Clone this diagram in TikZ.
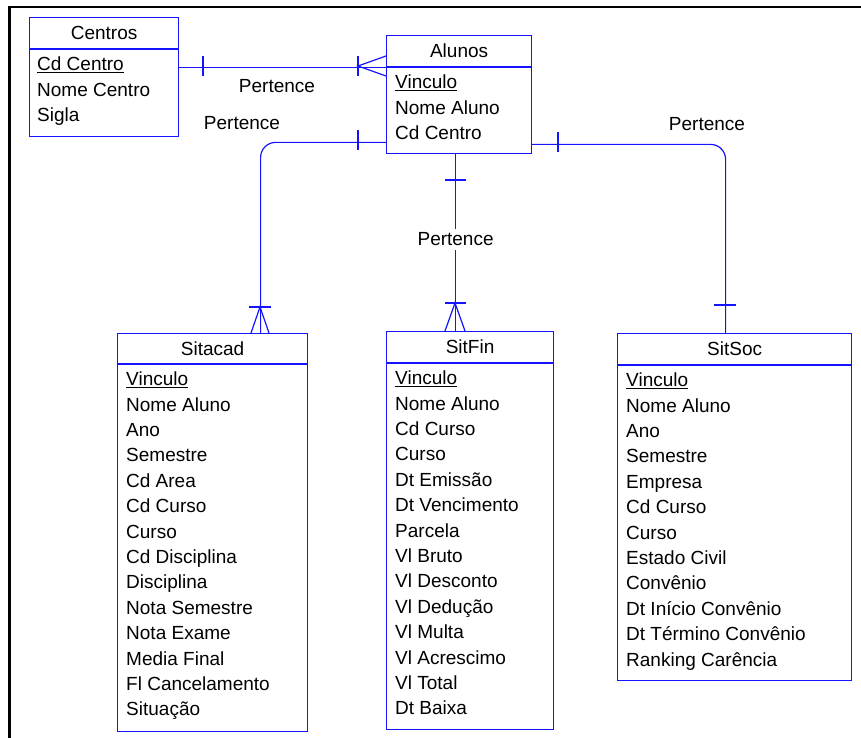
\documentclass[tikz,border=0pt]{standalone}
\usepackage{fontspec}
\setmainfont{Liberation Sans}
\usepackage{tikz}
\usetikzlibrary{calc}

\definecolor{erblue}{RGB}{20,20,255}

\tikzset{
  ent/.style={draw=erblue, line width=1.2pt, anchor=north west, inner sep=0pt},
  enthead/.style={ent, minimum height=31pt},
  fields/.style={anchor=north west, align=left, inner sep=0pt},
  rel/.style={draw=erblue, line width=1.2pt},
  lbl/.style={inner sep=0pt}
}

\begin{document}
\begin{tikzpicture}[x=1pt, y=-1pt, font=\fontsize{19}{25.4}\selectfont]
            \useasboundingbox (0,0) rectangle (861,738);
            \draw[line width=2.5pt] (9.5,738) -- (9.5,7) -- (861,7);

            % Centros
            \node[enthead, minimum width=149pt] (centros) at (29,17) {Centros};
            \node[ent, minimum width=149pt, minimum height=87pt] (centros-b) at (centros.south west) {};
            \node[fields] (centros-f) at ([xshift=8pt,yshift=-7.5pt]centros-b.north west)
                {\underline{Cd Centro}\\Nome Centro\\Sigla};

            % Alunos
            \node[enthead, minimum width=145pt] (alunos) at (386,35) {Alunos};
            \node[ent, minimum width=145pt, minimum height=86pt] (alunos-b) at (alunos.south west) {};
            \node[fields] (alunos-f) at ([xshift=9pt,yshift=-7.5pt]alunos-b.north west)
                {\underline{Vinculo}\\Nome Aluno\\Cd Centro};

            % Sitacad
            \node[enthead, minimum width=190pt, minimum height=30pt] (sitacad) at (117,333) {Sitacad};
            \node[ent, minimum width=190pt, minimum height=367pt] (sitacad-b) at (sitacad.south west) {};
            \node[fields] (sitacad-f) at ([xshift=9pt,yshift=-7.5pt]sitacad-b.north west)
                {\underline{Vinculo}\\Nome Aluno\\Ano\\Semestre\\Cd Area\\Cd Curso\\Curso\\
                 Cd Disciplina\\Disciplina\\Nota Semestre\\Nota Exame\\Media Final\\
                 Fl Cancelamento\\Situação};

            % SitFin
            \node[enthead, minimum width=167pt] (sitfin) at (386,331) {SitFin};
            \node[ent, minimum width=167pt, minimum height=366pt] (sitfin-b) at (sitfin.south west) {};
            \node[fields] (sitfin-f) at ([xshift=9pt,yshift=-7.5pt]sitfin-b.north west)
                {\underline{Vinculo}\\Nome Aluno\\Cd Curso\\Curso\\Dt Emissão\\Dt Vencimento\\
                 Parcela\\Vl Bruto\\Vl Desconto\\Vl Dedução\\Vl Multa\\Vl Acrescimo\\
                 Vl Total\\Dt Baixa};

            % SitSoc
            \node[enthead, minimum width=234pt] (sitsoc) at (617,333) {SitSoc};
            \node[ent, minimum width=234pt, minimum height=315pt] (sitsoc-b) at (sitsoc.south west) {};
            \node[fields] (sitsoc-f) at ([xshift=9pt,yshift=-7.5pt]sitsoc-b.north west)
                {\underline{Vinculo}\\Nome Aluno\\Ano\\Semestre\\Empresa\\Cd Curso\\Curso\\
                 Estado Civil\\Convênio\\Dt Início Convênio\\Dt Término Convênio\\
                 Ranking Carência};

            % Centros - Alunos
            \draw[rel] (centros-b.east |- alunos.south) -- (alunos.south west);
            \draw[rel] (203,56) -- (203,76);
            \draw[rel] (358,56) -- (358,76);
            \draw[rel] (386,56) -- (358,66) -- (386,76);
            \node[lbl] (p-centros) at (277,86) {Pertence};

            % Alunos - Sitacad
            \draw[rel, rounded corners=15pt] ([yshift=12pt]alunos-b.south west) -| ([xshift=48pt]sitacad.north);
            \draw[rel] (358,130) -- (358,150);
            \draw[rel] (249,307) -- (271,307);
            \draw[rel] (251,333) -- (260,307) -- (269,333);
            \node[lbl] (p-sitacad) at (242,123) {Pertence};

            % Alunos - SitFin
            \draw[rel] ([xshift=-3.5pt]alunos-b.south) -- node[lbl, fill=white, inner ysep=4pt, pos=0.48] (p-sitfin) {Pertence} ([xshift=-14.5pt]sitfin.north);
            \draw[rel] (445,180) -- (466,180);
            \draw[rel] (445,303) -- (466,303);
            \draw[rel] (445,331) -- (455,303) -- (465,331);

            % Alunos - SitSoc
            \draw[rel, rounded corners=15pt] ([yshift=10pt]alunos-b.south east) -| ([xshift=-9pt]sitsoc.north);
            \draw[rel] (558,132) -- (558,152);
            \draw[rel] (714,305) -- (736,305);
            \node[lbl] (p-sitsoc) at (707,124) {Pertence};
        \end{tikzpicture}
\end{document}
